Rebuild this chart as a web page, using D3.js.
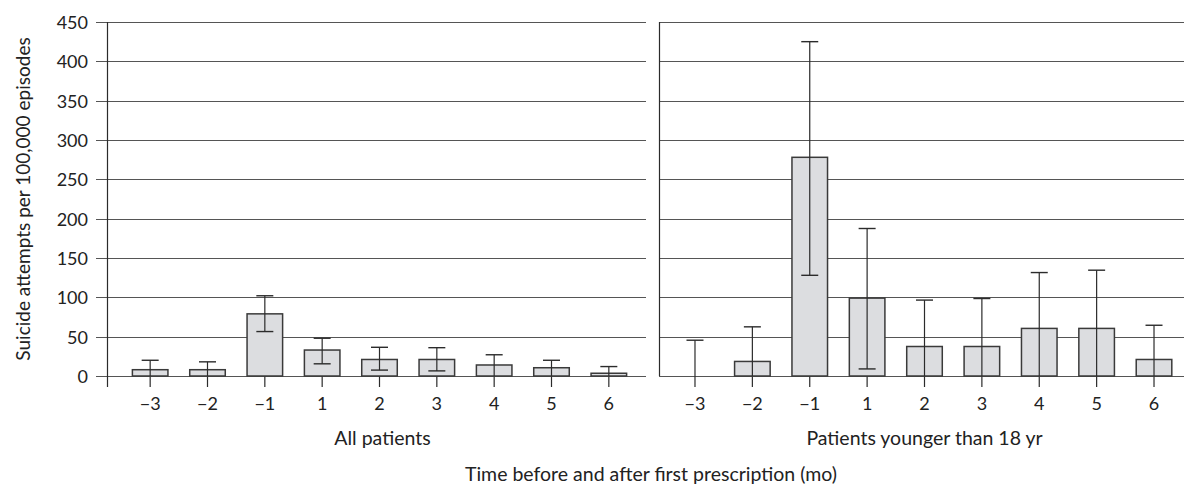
<!DOCTYPE html>
<html><head><meta charset="utf-8">
<script src="https://cdn.jsdelivr.net/npm/d3@7"></script>
<style>body{margin:0;background:#fff}svg{display:block;font-family:Lato,"Open Sans",sans-serif}</style>
</head><body><svg id="c" width="1184" height="486"></svg>
<script>
const categories = ["\u22123","\u22122","\u22121","1","2","3","4","5","6"];
const yTicks = [0,50,100,150,200,250,300,350,400,450];
const panelTitles = ["All patients","Patients younger than 18 yr"];
// All patients
const allValues = [8, 8, 79, 33, 21, 21, 14, 10.5, 3.5];
const allUpper  = [20, 18, 102, 48, 36.5, 36, 27, 20, 12];
const allLower  = [0, 0, 56.5, 15.5, 7.5, 6.5, 0, 0, 0];
// Patients younger than 18 yr
const youngValues = [0, 18.5, 278, 99, 37.5, 37.5, 60.5, 60.5, 21];
const youngUpper  = [45.5, 62.5, 425, 187.5, 96.5, 98.5, 131.5, 134.5, 64.5];
const youngLower  = [0, 0, 128, 9, 0, 0, 0, 0, 0];

const svg = d3.select("#c");
const y = d3.scaleLinear().domain([0,450]).range([376,22]);
const ink = "#2b2b2b";

const panels = [
  {vals:allValues, up:allUpper, lo:allLower, gx0:96, gx1:646, axisX:107, axisBottom:387, range:[121.5,637.5], title:panelTitles[0]},
  {vals:youngValues, up:youngUpper, lo:youngLower, gx0:659, gx1:1184, axisX:659, axisBottom:376, range:[666.3,1182.7], title:panelTitles[1]}
];

panels.forEach((p,pi)=>{
  const g = svg.append("g");
  g.selectAll("line.grid").data(yTicks).join("line")
    .attr("x1", p.gx0).attr("x2", p.gx1)
    .attr("y1", d=>Math.round(y(d))+0.5).attr("y2", d=>Math.round(y(d))+0.5)
    .attr("stroke", "#555").attr("stroke-width", 1.2);
  g.append("line").attr("x1",p.axisX+0.5).attr("x2",p.axisX+0.5)
    .attr("y1", y(450)).attr("y2", p.axisBottom)
    .attr("stroke", ink).attr("stroke-width", 1.2);
  const x = d3.scaleBand().domain(categories).range(p.range).paddingInner(0.38).paddingOuter(0.19);
  const data = categories.map((c,i)=>({c, v:p.vals[i], u:p.up[i], l:p.lo[i]}));
  g.selectAll("line.xt").data(data).join("line")
    .attr("x1", d=>x(d.c)+x.bandwidth()/2).attr("x2", d=>x(d.c)+x.bandwidth()/2)
    .attr("y1", y(0)).attr("y2", 387)
    .attr("stroke", ink).attr("stroke-width", 1.2);
  g.selectAll("rect.bar").data(data.filter(d=>d.v>0)).join("rect")
    .attr("x", d=>x(d.c)).attr("width", x.bandwidth())
    .attr("y", d=>y(d.v)).attr("height", d=>y(0)-y(d.v))
    .attr("fill", "#dcdde0").attr("stroke", "#3a3a3a").attr("stroke-width", 1.5);
  g.selectAll("line.err").data(data).join("line")
    .attr("x1", d=>x(d.c)+x.bandwidth()/2).attr("x2", d=>x(d.c)+x.bandwidth()/2)
    .attr("y1", d=>y(d.u)).attr("y2", d=>y(d.l))
    .attr("stroke", ink).attr("stroke-width", 1.2);
  g.selectAll("line.capU").data(data).join("line")
    .attr("x1", d=>x(d.c)+x.bandwidth()/2-8.5).attr("x2", d=>x(d.c)+x.bandwidth()/2+8.5)
    .attr("y1", d=>y(d.u)).attr("y2", d=>y(d.u))
    .attr("stroke", ink).attr("stroke-width", 1.4);
  g.selectAll("line.capL").data(data.filter(d=>d.l>0)).join("line")
    .attr("x1", d=>x(d.c)+x.bandwidth()/2-8.5).attr("x2", d=>x(d.c)+x.bandwidth()/2+8.5)
    .attr("y1", d=>y(d.l)).attr("y2", d=>y(d.l))
    .attr("stroke", ink).attr("stroke-width", 1.4);
  g.selectAll("text.xl").data(data).join("text")
    .attr("x", d=>x(d.c)+x.bandwidth()/2).attr("y", 409.5)
    .attr("text-anchor","middle").attr("font-size",18).attr("fill","#222")
    .text(d=>d.c);
  g.append("text").attr("x", (p.range[0]+p.range[1])/2 + (pi===0?3:0)).attr("y", 445)
    .attr("text-anchor","middle").attr("font-size",19.5).attr("fill","#222").text(p.title);
  if(pi===0){
    g.selectAll("text.yl").data(yTicks).join("text")
      .attr("x", 88).attr("y", d=>y(d)+7)
      .attr("text-anchor","end").attr("font-size",18).attr("fill","#222")
      .text(d=>d);
  }
});

svg.append("text").attr("transform","translate(30,199) rotate(-90)")
  .attr("text-anchor","middle").attr("font-size",19).attr("fill","#222")
  .text("Suicide attempts per 100,000 episodes");
svg.append("text").attr("x", 651).attr("y", 481)
  .attr("text-anchor","middle").attr("font-size",19.5).attr("fill","#222")
  .text("Time before and after first prescription (mo)");
</script></body></html>
